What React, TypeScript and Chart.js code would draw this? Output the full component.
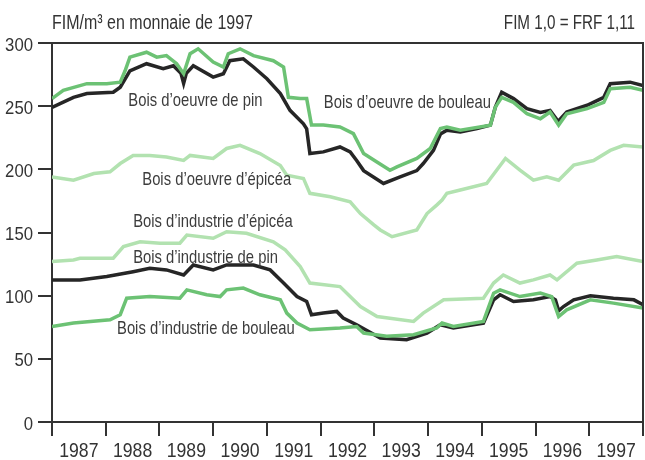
import React, { useEffect, useRef } from 'react';
import { Chart, registerables } from 'chart.js';

Chart.register(...registerables);

const years = ['1987', '1988', '1989', '1990', '1991', '1992', '1993', '1994', '1995', '1996', '1997'];
const yTicks = [0, 50, 100, 150, 200, 250, 300];

// [time (fractional year), FIM/m3]
const pineSawlog: [number, number][] = [
  [1987.0, 249], [1987.2, 253], [1987.4, 257], [1987.65, 260], [1988.14, 261], [1988.27, 265], [1988.45, 278],
  [1988.76, 283.6], [1989.07, 279.6], [1989.26, 282], [1989.4, 276], [1989.45, 268], [1989.5, 276], [1989.63, 282],
  [1990.0, 273], [1990.19, 275.7], [1990.31, 286], [1990.56, 287.5], [1990.75, 281], [1991.0, 271.7], [1991.25, 260],
  [1991.43, 246.7], [1991.68, 236], [1991.74, 232], [1991.8, 212.5], [1992.05, 213.8], [1992.36, 217.7], [1992.55, 213.8],
  [1992.67, 207], [1992.8, 199], [1993.17, 188.8], [1993.48, 194], [1993.79, 199], [1993.91, 204.6], [1994.1, 215],
  [1994.23, 228], [1994.35, 231], [1994.6, 229.6], [1994.91, 232.3], [1995.16, 235], [1995.25, 249], [1995.37, 261],
  [1995.59, 256], [1995.84, 248], [1996.09, 245], [1996.27, 246.7], [1996.42, 238], [1996.58, 245.4], [1996.96, 250.7],
  [1997.27, 257], [1997.39, 267.8], [1997.76, 269], [1998.0, 266.4],
];
const birchSawlog: [number, number][] = [
  [1987.0, 256], [1987.21, 262.5], [1987.65, 267.8], [1988.02, 267.8], [1988.27, 269], [1988.36, 278], [1988.45, 288.8],
  [1988.76, 292.7], [1988.95, 288.8], [1989.13, 290], [1989.32, 283.6], [1989.45, 275.7], [1989.57, 291.5], [1989.72, 295.4],
  [1990.0, 284.9], [1990.19, 281], [1990.28, 291.5], [1990.5, 295.4], [1990.75, 290], [1991.12, 286], [1991.31, 281],
  [1991.4, 257], [1991.62, 256], [1991.74, 256], [1991.83, 235], [1992.05, 235], [1992.36, 233.5], [1992.61, 228.3],
  [1992.8, 212.5], [1993.04, 206], [1993.29, 199.3], [1993.42, 202], [1993.79, 208.6], [1994.04, 216.5], [1994.23, 232.3],
  [1994.35, 233.5], [1994.6, 231], [1995.16, 235], [1995.25, 249], [1995.37, 257], [1995.59, 253], [1995.84, 244],
  [1996.09, 240], [1996.27, 245.4], [1996.43, 235], [1996.58, 244], [1996.96, 248], [1997.27, 253], [1997.39, 263.8],
  [1997.76, 265], [1998.0, 262.5],
];
const spruceSawlog: [number, number][] = [
  [1987.0, 194], [1987.4, 191.4], [1987.78, 196.7], [1988.08, 198], [1988.27, 204.6], [1988.51, 211], [1988.82, 211],
  [1989.13, 209.8], [1989.45, 207], [1989.57, 211], [1990.0, 208.6], [1990.25, 216.5], [1990.5, 219], [1990.87, 212.5],
  [1991.25, 203], [1991.37, 195.4], [1991.68, 192.8], [1991.8, 181], [1992.18, 178.3], [1992.55, 174.3], [1992.74, 165],
  [1992.99, 156], [1993.11, 152], [1993.33, 146.7], [1993.79, 152], [1993.98, 165], [1994.16, 171.7], [1994.26, 175.7],
  [1994.35, 181], [1994.6, 183.6], [1995.09, 188.8], [1995.44, 208.6], [1995.71, 199.3], [1995.96, 191.4], [1996.21, 194],
  [1996.43, 191.4], [1996.71, 203.3], [1997.08, 207], [1997.39, 215], [1997.64, 219], [1998.0, 217.7],
];
const sprucePulpwood: [number, number][] = [
  [1987.0, 127], [1987.4, 128.3], [1987.52, 129.6], [1988.14, 129.6], [1988.33, 138.8], [1988.64, 142.7], [1989.01, 141.5],
  [1989.38, 141.5], [1989.51, 148], [1990.0, 145.4], [1990.25, 150.6], [1990.62, 149.4], [1991.12, 142.7], [1991.34, 136.2],
  [1991.62, 123], [1991.8, 110], [1992.36, 107.2], [1992.74, 91.4], [1993.05, 83.5], [1993.73, 79.6], [1993.91, 86.2],
  [1994.29, 96.7], [1995.03, 98], [1995.22, 110], [1995.4, 116.4], [1995.71, 110], [1995.96, 112.5], [1996.27, 116.4],
  [1996.4, 112.5], [1996.77, 125.7], [1997.14, 128.3], [1997.51, 130.9], [1998.0, 127],
];
const pinePulpwood: [number, number][] = [
  [1987.0, 112.5], [1987.52, 112.5], [1988.02, 115.1], [1988.51, 119], [1988.82, 121.7], [1989.13, 120.4], [1989.45, 116.4],
  [1989.63, 124.3], [1990.0, 120.4], [1990.25, 124.3], [1990.75, 124.3], [1991.06, 120.4], [1991.31, 110], [1991.56, 99.3],
  [1991.74, 95.4], [1991.83, 84.9], [1992.05, 86.2], [1992.3, 87.5], [1992.42, 82.3], [1992.67, 77], [1993.11, 66.5],
  [1993.6, 65.1], [1993.98, 70.4], [1994.23, 77], [1994.47, 74.4], [1995.03, 78.3], [1995.22, 96.7], [1995.34, 100.7],
  [1995.59, 95.4], [1995.96, 96.7], [1996.27, 99.3], [1996.37, 96.7], [1996.43, 88], [1996.52, 91.4], [1996.71, 96.7],
  [1997.02, 99.9], [1997.45, 98], [1997.83, 96.7], [1998.0, 92.8],
];
const birchPulpwood: [number, number][] = [
  [1987.0, 75.6], [1987.4, 78.3], [1988.08, 80.9], [1988.27, 84.9], [1988.39, 98], [1988.82, 99.3], [1989.38, 98],
  [1989.51, 104.6], [1989.88, 100.7], [1990.13, 99.3], [1990.25, 104.6], [1990.56, 106], [1990.87, 100.7], [1991.25, 96.7],
  [1991.37, 86.2], [1991.56, 78.3], [1991.8, 73], [1992.36, 74.4], [1992.67, 75.6], [1992.8, 70.4], [1993.23, 67.8],
  [1993.73, 69.1], [1994.16, 74.4], [1994.26, 78.3], [1994.47, 75.6], [1995.03, 79.6], [1995.22, 102], [1995.34, 104.6],
  [1995.71, 99.3], [1996.09, 102], [1996.3, 99.3], [1996.43, 83.5], [1996.58, 88.8], [1997.02, 96.7], [1997.45, 94.1],
  [1998.0, 90.2],
];

// series labels: [text, left-edge time, baseline value]
const seriesLabels: [string, number, number][] = [
  ['Bois d’oeuvre de pin', 1988.42, 250.2],
  ['Bois d’oeuvre de bouleau', 1992.06, 248.2],
  ['Bois d’oeuvre d’épicéa', 1988.68, 187.6],
  ['Bois d’industrie d’épicéa', 1988.51, 154],
  ['Bois d’industrie de pin', 1988.51, 125.7],
  ['Bois d’industrie de bouleau', 1988.21, 69.3],
];
const titleLeft = 'FIM/m³ en monnaie de 1997';
const titleRight = 'FIM 1,0 = FRF 1,11';

const FONT = "'Liberation Sans', Arial, sans-serif";
const INK = '#333333';
const LABEL_INK = '#3c3c3c';
const BLACK = '#262626';
const MID_GREEN = '#6cc274';
const LIGHT_GREEN = '#b2e2b0';

const toXY = (arr: [number, number][]) => arr.map(([x, y]) => ({ x, y }));

// draws real text, horizontally condensed like the original narrow typeface
function narrowText(ctx: CanvasRenderingContext2D, txt: string, x: number, y: number, size: number, sx: number, align: CanvasTextAlign, color: string) {
  ctx.save();
  ctx.translate(x, y);
  ctx.scale(sx, 1);
  ctx.font = `${size}px ${FONT}`;
  ctx.fillStyle = color;
  ctx.textAlign = align;
  ctx.textBaseline = 'alphabetic';
  ctx.fillText(txt, 0, 0);
  ctx.restore();
}

const framePlugin = {
  id: 'frame',
  afterDatasetsDraw(chart: any) {
    const { ctx, chartArea: a } = chart;
    ctx.save();
    ctx.strokeStyle = INK;
    ctx.lineWidth = 2;
    ctx.beginPath();
    ctx.moveTo(a.left, a.top);
    ctx.lineTo(a.right, a.top);
    ctx.lineTo(a.right, a.bottom);
    ctx.stroke();
    ctx.restore();
  },
};

const textPlugin = {
  id: 'texts',
  afterDraw(chart: any) {
    const { ctx, chartArea: a } = chart;
    const ts = chart.scales.t;
    const xs = chart.scales.x;
    const ys = chart.scales.y;
    for (const [txt, t, v] of seriesLabels) {
      narrowText(ctx, txt, ts.getPixelForValue(t), ys.getPixelForValue(v), 18.5, 0.8, 'left', LABEL_INK);
    }
    narrowText(ctx, titleLeft, a.left, a.top - 14, 20, 0.8, 'left', INK);
    narrowText(ctx, titleRight, a.right - 8, a.top - 14, 19.5, 0.78, 'right', INK);
    const labels = xs.getLabels();
    xs.ticks.forEach((tk: any) => {
      narrowText(ctx, labels[tk.value], xs.getPixelForValue(tk.value), xs.top + 35, 21, 0.84, 'center', INK);
    });
    ys.ticks.forEach((tk: any) => {
      narrowText(ctx, String(tk.value), ys.right - 19, ys.getPixelForValue(tk.value) + 7.5, 19, 0.88, 'right', INK);
    });
  },
};

export default function App() {
  const ref = useRef<HTMLCanvasElement>(null);
  useEffect(() => {
    if (!ref.current) return;
    const line = (data: [number, number][], color: string) => ({
      data: toXY(data),
      borderColor: color,
      backgroundColor: color,
      borderWidth: 3.5,
      pointRadius: 0,
      tension: 0,
      xAxisID: 't',
      yAxisID: 'y',
    });
    const chart = new Chart(ref.current, {
      type: 'line',
      data: {
        datasets: [
          line(birchSawlog, MID_GREEN),
          line(birchPulpwood, MID_GREEN),
          line(spruceSawlog, LIGHT_GREEN),
          line(sprucePulpwood, LIGHT_GREEN),
          line(pineSawlog, BLACK),
          line(pinePulpwood, BLACK),
        ],
      },
      options: {
        responsive: false,
        animation: false,
        events: [],
        layout: { padding: { top: 43, right: 2, left: 0, bottom: 0 } },
        plugins: { legend: { display: false }, tooltip: { enabled: false } },
        scales: {
          x: {
            type: 'category',
            labels: years,
            position: 'bottom',
            offset: true,
            grid: { offset: true, drawOnChartArea: false, tickLength: 14, color: INK, lineWidth: 2 },
            border: { display: true, color: INK, width: 2 },
            ticks: { display: false, autoSkip: false },
            afterFit: (s: any) => { s.height = 38; },
          },
          t: {
            type: 'linear',
            axis: 'x',
            position: 'bottom',
            display: false,
            min: 1987,
            max: 1998,
          },
          y: {
            type: 'linear',
            min: 0,
            max: 300,
            afterBuildTicks: (s: any) => { s.ticks = yTicks.map((v) => ({ value: v })); },
            grid: { drawOnChartArea: false, tickLength: 14, color: INK, lineWidth: 2 },
            border: { display: true, color: INK, width: 2 },
            ticks: { display: false },
            afterFit: (s: any) => { s.width = 52; },
          },
        },
      } as any,
      plugins: [framePlugin, textPlugin],
    });
    return () => chart.destroy();
  }, []);
  return (
    <div style={{ position: 'absolute', left: 0, top: 0, width: 645, height: 460, background: '#fff' }}>
      <canvas ref={ref} width={645} height={460} />
    </div>
  );
}
